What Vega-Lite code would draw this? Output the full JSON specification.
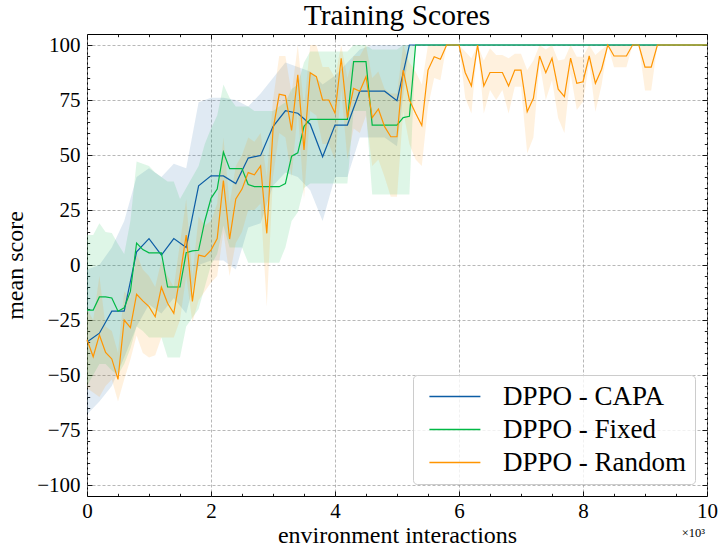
{
  "$schema": "https://vega.github.io/schema/vega-lite/v6.json",
  "width": 620,
  "height": 462,
  "autosize": {"type": "none"},
  "padding": {"left": 87, "top": 34, "right": 16, "bottom": 54},
  "background": "white",
  "title": {"text": "Training Scores"},
  "config": {
    "view": {"stroke": "black", "strokeWidth": 1},
    "font": "Liberation Serif",
    "title": {"font": "Liberation Serif", "fontSize": 29.5, "fontWeight": "normal", "color": "black", "offset": 2},
    "axis": {
      "domain": false,
      "labelFont": "Liberation Serif", "labelFontSize": 21, "labelColor": "black",
      "titleFont": "Liberation Serif", "titleFontSize": 24, "titleFontWeight": "normal", "titleColor": "black",
      "tickColor": "black", "tickWidth": 0.9,
      "gridColor": "#9a9a9a", "gridDash": [3, 2], "gridWidth": 0.7,
      "labelFlush": false
    },
    "legend": {
      "orient": "bottom-right", "offset": 12, "padding": 8,
      "fillColor": "rgba(255,255,255,0.8)", "strokeColor": "#cccccc", "cornerRadius": 4,
      "symbolSize": 104, "symbolStrokeWidth": 1.5,
      "labelFont": "Liberation Serif", "labelFontSize": 27, "labelColor": "black",
      "labelOffset": 55, "rowPadding": 5, "labelLimit": 400
    }
  },
  "data": {"values": [
    {"series": "DPPO - CAPA", "x": 0, "mean": -35, "lo": -68, "hi": -2},
    {"series": "DPPO - CAPA", "x": 0.2, "mean": -31, "lo": -62, "hi": 0},
    {"series": "DPPO - CAPA", "x": 0.4, "mean": -21, "lo": -55, "hi": 8},
    {"series": "DPPO - CAPA", "x": 0.6, "mean": -21, "lo": -42, "hi": 20},
    {"series": "DPPO - CAPA", "x": 0.8, "mean": 6, "lo": -28, "hi": 40},
    {"series": "DPPO - CAPA", "x": 1.0, "mean": 12, "lo": -18, "hi": 44},
    {"series": "DPPO - CAPA", "x": 1.2, "mean": 4.5, "lo": -22, "hi": 40},
    {"series": "DPPO - CAPA", "x": 1.4, "mean": 12, "lo": -15, "hi": 46},
    {"series": "DPPO - CAPA", "x": 1.6, "mean": 8, "lo": -22, "hi": 44},
    {"series": "DPPO - CAPA", "x": 1.8, "mean": 36, "lo": 0, "hi": 74},
    {"series": "DPPO - CAPA", "x": 2.0, "mean": 40.5, "lo": 2, "hi": 76},
    {"series": "DPPO - CAPA", "x": 2.2, "mean": 40.5, "lo": 2, "hi": 76},
    {"series": "DPPO - CAPA", "x": 2.4, "mean": 37, "lo": -2, "hi": 75},
    {"series": "DPPO - CAPA", "x": 2.6, "mean": 48.6, "lo": 17, "hi": 72},
    {"series": "DPPO - CAPA", "x": 2.8, "mean": 49.8, "lo": 19, "hi": 78},
    {"series": "DPPO - CAPA", "x": 3.0, "mean": 62.9, "lo": 36, "hi": 85},
    {"series": "DPPO - CAPA", "x": 3.2, "mean": 70.1, "lo": 42, "hi": 92},
    {"series": "DPPO - CAPA", "x": 3.4, "mean": 69, "lo": 40, "hi": 90},
    {"series": "DPPO - CAPA", "x": 3.6, "mean": 64, "lo": 34, "hi": 88},
    {"series": "DPPO - CAPA", "x": 3.8, "mean": 49.2, "lo": 20, "hi": 82},
    {"series": "DPPO - CAPA", "x": 4.0, "mean": 63.6, "lo": 40, "hi": 86},
    {"series": "DPPO - CAPA", "x": 4.2, "mean": 63.6, "lo": 40, "hi": 92},
    {"series": "DPPO - CAPA", "x": 4.4, "mean": 79, "lo": 58, "hi": 98},
    {"series": "DPPO - CAPA", "x": 4.6, "mean": 79, "lo": 58, "hi": 100},
    {"series": "DPPO - CAPA", "x": 4.8, "mean": 79, "lo": 58, "hi": 100},
    {"series": "DPPO - CAPA", "x": 5.0, "mean": 74.7, "lo": 54, "hi": 100},
    {"series": "DPPO - CAPA", "x": 5.2, "mean": 100, "lo": 100, "hi": 100},
    {"series": "DPPO - CAPA", "x": 10, "mean": 100, "lo": 100, "hi": 100},

    {"series": "DPPO - Fixed", "x": 0, "mean": -20.5, "lo": -55, "hi": 13.6},
    {"series": "DPPO - Fixed", "x": 0.1, "mean": -20.5, "lo": -50, "hi": 13.6},
    {"series": "DPPO - Fixed", "x": 0.2, "mean": -14.5, "lo": -45, "hi": 19},
    {"series": "DPPO - Fixed", "x": 0.3, "mean": -14.5, "lo": -45, "hi": 15},
    {"series": "DPPO - Fixed", "x": 0.4, "mean": -15, "lo": -48, "hi": 14.5},
    {"series": "DPPO - Fixed", "x": 0.5, "mean": -21, "lo": -50, "hi": 9.5},
    {"series": "DPPO - Fixed", "x": 0.6, "mean": -19.5, "lo": -45, "hi": 5},
    {"series": "DPPO - Fixed", "x": 0.7, "mean": -12, "lo": -38, "hi": 20},
    {"series": "DPPO - Fixed", "x": 0.8, "mean": 10, "lo": -28, "hi": 47},
    {"series": "DPPO - Fixed", "x": 0.9, "mean": 7, "lo": -30, "hi": 46},
    {"series": "DPPO - Fixed", "x": 1.0, "mean": 5.5, "lo": -33, "hi": 45},
    {"series": "DPPO - Fixed", "x": 1.1, "mean": 5.5, "lo": -33, "hi": 42},
    {"series": "DPPO - Fixed", "x": 1.2, "mean": 5.5, "lo": -33, "hi": 40},
    {"series": "DPPO - Fixed", "x": 1.3, "mean": -10, "lo": -42, "hi": 38},
    {"series": "DPPO - Fixed", "x": 1.4, "mean": -10, "lo": -42, "hi": 38},
    {"series": "DPPO - Fixed", "x": 1.5, "mean": -10, "lo": -42, "hi": 30},
    {"series": "DPPO - Fixed", "x": 1.6, "mean": 5.6, "lo": -28, "hi": 35},
    {"series": "DPPO - Fixed", "x": 1.7, "mean": 6.4, "lo": -24, "hi": 40},
    {"series": "DPPO - Fixed", "x": 1.8, "mean": 6.7, "lo": -20, "hi": 45},
    {"series": "DPPO - Fixed", "x": 1.9, "mean": 20, "lo": -10, "hi": 55},
    {"series": "DPPO - Fixed", "x": 2.0, "mean": 30.3, "lo": 0, "hi": 62},
    {"series": "DPPO - Fixed", "x": 2.1, "mean": 34.5, "lo": 5, "hi": 68},
    {"series": "DPPO - Fixed", "x": 2.2, "mean": 51.3, "lo": 18, "hi": 82},
    {"series": "DPPO - Fixed", "x": 2.3, "mean": 43.8, "lo": 8, "hi": 76},
    {"series": "DPPO - Fixed", "x": 2.4, "mean": 43.8, "lo": 8, "hi": 72},
    {"series": "DPPO - Fixed", "x": 2.5, "mean": 43.8, "lo": 8, "hi": 72},
    {"series": "DPPO - Fixed", "x": 2.6, "mean": 36.6, "lo": 1, "hi": 72},
    {"series": "DPPO - Fixed", "x": 2.7, "mean": 35.6, "lo": 1, "hi": 70},
    {"series": "DPPO - Fixed", "x": 2.8, "mean": 35.6, "lo": 1, "hi": 70},
    {"series": "DPPO - Fixed", "x": 2.9, "mean": 35.6, "lo": 1, "hi": 70},
    {"series": "DPPO - Fixed", "x": 3.0, "mean": 35.6, "lo": 1, "hi": 70},
    {"series": "DPPO - Fixed", "x": 3.1, "mean": 35.6, "lo": 1, "hi": 72},
    {"series": "DPPO - Fixed", "x": 3.2, "mean": 37, "lo": 8, "hi": 74},
    {"series": "DPPO - Fixed", "x": 3.3, "mean": 49.5, "lo": 20, "hi": 80},
    {"series": "DPPO - Fixed", "x": 3.4, "mean": 51, "lo": 24, "hi": 82},
    {"series": "DPPO - Fixed", "x": 3.5, "mean": 63, "lo": 35, "hi": 92},
    {"series": "DPPO - Fixed", "x": 3.6, "mean": 66.2, "lo": 37, "hi": 97},
    {"series": "DPPO - Fixed", "x": 3.7, "mean": 66.2, "lo": 37, "hi": 97},
    {"series": "DPPO - Fixed", "x": 3.8, "mean": 66.2, "lo": 37, "hi": 97},
    {"series": "DPPO - Fixed", "x": 3.9, "mean": 66.2, "lo": 37, "hi": 97},
    {"series": "DPPO - Fixed", "x": 4.0, "mean": 66.2, "lo": 37, "hi": 97},
    {"series": "DPPO - Fixed", "x": 4.1, "mean": 66.2, "lo": 37, "hi": 97},
    {"series": "DPPO - Fixed", "x": 4.2, "mean": 66.2, "lo": 37, "hi": 97},
    {"series": "DPPO - Fixed", "x": 4.3, "mean": 92.4, "lo": 70, "hi": 100},
    {"series": "DPPO - Fixed", "x": 4.4, "mean": 92.4, "lo": 70, "hi": 100},
    {"series": "DPPO - Fixed", "x": 4.5, "mean": 92.4, "lo": 70, "hi": 100},
    {"series": "DPPO - Fixed", "x": 4.6, "mean": 63.6, "lo": 32, "hi": 98},
    {"series": "DPPO - Fixed", "x": 4.7, "mean": 63.6, "lo": 32, "hi": 98},
    {"series": "DPPO - Fixed", "x": 4.8, "mean": 63.6, "lo": 32, "hi": 98},
    {"series": "DPPO - Fixed", "x": 4.9, "mean": 63.6, "lo": 32, "hi": 98},
    {"series": "DPPO - Fixed", "x": 5.0, "mean": 63.6, "lo": 32, "hi": 98},
    {"series": "DPPO - Fixed", "x": 5.1, "mean": 67, "lo": 32, "hi": 100},
    {"series": "DPPO - Fixed", "x": 5.2, "mean": 67.6, "lo": 32, "hi": 100},
    {"series": "DPPO - Fixed", "x": 5.3, "mean": 100, "lo": 100, "hi": 100},
    {"series": "DPPO - Fixed", "x": 10, "mean": 100, "lo": 100, "hi": 100},

    {"series": "DPPO - Random", "x": 0, "mean": -34, "lo": -56, "hi": -20},
    {"series": "DPPO - Random", "x": 0.1, "mean": -41.7, "lo": -58, "hi": -25},
    {"series": "DPPO - Random", "x": 0.2, "mean": -31.8, "lo": -60, "hi": -5},
    {"series": "DPPO - Random", "x": 0.3, "mean": -39.7, "lo": -55, "hi": -28},
    {"series": "DPPO - Random", "x": 0.4, "mean": -42.7, "lo": -52, "hi": -30},
    {"series": "DPPO - Random", "x": 0.5, "mean": -52, "lo": -62, "hi": -40},
    {"series": "DPPO - Random", "x": 0.6, "mean": -25, "lo": -52, "hi": -12},
    {"series": "DPPO - Random", "x": 0.7, "mean": -28.5, "lo": -43, "hi": -15},
    {"series": "DPPO - Random", "x": 0.8, "mean": -13.3, "lo": -32, "hi": 5},
    {"series": "DPPO - Random", "x": 0.9, "mean": -16.3, "lo": -40, "hi": -2},
    {"series": "DPPO - Random", "x": 1.0, "mean": -18.9, "lo": -42, "hi": -5},
    {"series": "DPPO - Random", "x": 1.1, "mean": -23.5, "lo": -41, "hi": -10},
    {"series": "DPPO - Random", "x": 1.2, "mean": -10.1, "lo": -33, "hi": 2},
    {"series": "DPPO - Random", "x": 1.3, "mean": -17.4, "lo": -33, "hi": -5},
    {"series": "DPPO - Random", "x": 1.4, "mean": -22, "lo": -33, "hi": -10},
    {"series": "DPPO - Random", "x": 1.5, "mean": -5, "lo": -25, "hi": 10},
    {"series": "DPPO - Random", "x": 1.6, "mean": 13.6, "lo": -5, "hi": 30},
    {"series": "DPPO - Random", "x": 1.7, "mean": -16.6, "lo": -26, "hi": -5},
    {"series": "DPPO - Random", "x": 1.8, "mean": 4.5, "lo": -16, "hi": 22},
    {"series": "DPPO - Random", "x": 1.9, "mean": 3.8, "lo": -12, "hi": 18},
    {"series": "DPPO - Random", "x": 2.0, "mean": 6.8, "lo": -8, "hi": 20},
    {"series": "DPPO - Random", "x": 2.1, "mean": 12, "lo": -5, "hi": 28},
    {"series": "DPPO - Random", "x": 2.2, "mean": 38.4, "lo": 15, "hi": 58},
    {"series": "DPPO - Random", "x": 2.3, "mean": 11.8, "lo": -5, "hi": 28},
    {"series": "DPPO - Random", "x": 2.4, "mean": 30, "lo": 10, "hi": 45},
    {"series": "DPPO - Random", "x": 2.5, "mean": 34.5, "lo": 15, "hi": 50},
    {"series": "DPPO - Random", "x": 2.6, "mean": 42, "lo": 25, "hi": 58},
    {"series": "DPPO - Random", "x": 2.7, "mean": 41, "lo": 25, "hi": 56},
    {"series": "DPPO - Random", "x": 2.8, "mean": 45, "lo": 28, "hi": 60},
    {"series": "DPPO - Random", "x": 2.9, "mean": 14.4, "lo": -19, "hi": 40},
    {"series": "DPPO - Random", "x": 3.0, "mean": 61.4, "lo": 40, "hi": 75},
    {"series": "DPPO - Random", "x": 3.1, "mean": 77.6, "lo": 60, "hi": 95},
    {"series": "DPPO - Random", "x": 3.2, "mean": 77, "lo": 58, "hi": 95},
    {"series": "DPPO - Random", "x": 3.3, "mean": 61.2, "lo": 40, "hi": 78},
    {"series": "DPPO - Random", "x": 3.4, "mean": 86.4, "lo": 70, "hi": 100},
    {"series": "DPPO - Random", "x": 3.5, "mean": 52.3, "lo": 30, "hi": 72},
    {"series": "DPPO - Random", "x": 3.6, "mean": 87.4, "lo": 70, "hi": 100},
    {"series": "DPPO - Random", "x": 3.7, "mean": 85.6, "lo": 68, "hi": 100},
    {"series": "DPPO - Random", "x": 3.8, "mean": 75, "lo": 55, "hi": 90},
    {"series": "DPPO - Random", "x": 3.9, "mean": 75, "lo": 55, "hi": 90},
    {"series": "DPPO - Random", "x": 4.0, "mean": 69, "lo": 48, "hi": 85},
    {"series": "DPPO - Random", "x": 4.1, "mean": 94, "lo": 80, "hi": 100},
    {"series": "DPPO - Random", "x": 4.2, "mean": 67, "lo": 48, "hi": 85},
    {"series": "DPPO - Random", "x": 4.3, "mean": 80.3, "lo": 62, "hi": 95},
    {"series": "DPPO - Random", "x": 4.4, "mean": 79, "lo": 60, "hi": 95},
    {"series": "DPPO - Random", "x": 4.5, "mean": 85.6, "lo": 68, "hi": 100},
    {"series": "DPPO - Random", "x": 4.6, "mean": 67, "lo": 45, "hi": 85},
    {"series": "DPPO - Random", "x": 4.7, "mean": 70.9, "lo": 48, "hi": 88},
    {"series": "DPPO - Random", "x": 4.8, "mean": 62.9, "lo": 40, "hi": 80},
    {"series": "DPPO - Random", "x": 4.9, "mean": 58.3, "lo": 31, "hi": 78},
    {"series": "DPPO - Random", "x": 5.0, "mean": 58.3, "lo": 31, "hi": 78},
    {"series": "DPPO - Random", "x": 5.1, "mean": 88.6, "lo": 70, "hi": 100},
    {"series": "DPPO - Random", "x": 5.2, "mean": 75, "lo": 55, "hi": 92},
    {"series": "DPPO - Random", "x": 5.3, "mean": 69, "lo": 48, "hi": 88},
    {"series": "DPPO - Random", "x": 5.4, "mean": 63.4, "lo": 45, "hi": 82},
    {"series": "DPPO - Random", "x": 5.5, "mean": 88.6, "lo": 72, "hi": 100},
    {"series": "DPPO - Random", "x": 5.6, "mean": 94.7, "lo": 85, "hi": 100},
    {"series": "DPPO - Random", "x": 5.7, "mean": 93.5, "lo": 84, "hi": 100},
    {"series": "DPPO - Random", "x": 5.8, "mean": 100, "lo": 100, "hi": 100},
    {"series": "DPPO - Random", "x": 5.9, "mean": 100, "lo": 100, "hi": 100},
    {"series": "DPPO - Random", "x": 6.0, "mean": 100, "lo": 100, "hi": 100},
    {"series": "DPPO - Random", "x": 6.1, "mean": 87.5, "lo": 76, "hi": 97},
    {"series": "DPPO - Random", "x": 6.2, "mean": 81.4, "lo": 68.9, "hi": 94},
    {"series": "DPPO - Random", "x": 6.3, "mean": 100, "lo": 100, "hi": 100},
    {"series": "DPPO - Random", "x": 6.4, "mean": 81.4, "lo": 68.9, "hi": 93},
    {"series": "DPPO - Random", "x": 6.5, "mean": 87.5, "lo": 79.5, "hi": 98.5},
    {"series": "DPPO - Random", "x": 6.6, "mean": 87.5, "lo": 75, "hi": 95.5},
    {"series": "DPPO - Random", "x": 6.7, "mean": 87.5, "lo": 79.5, "hi": 95.5},
    {"series": "DPPO - Random", "x": 6.8, "mean": 81.4, "lo": 68.9, "hi": 94},
    {"series": "DPPO - Random", "x": 6.9, "mean": 88.6, "lo": 81, "hi": 96},
    {"series": "DPPO - Random", "x": 7.0, "mean": 88.6, "lo": 81, "hi": 96},
    {"series": "DPPO - Random", "x": 7.1, "mean": 69.7, "lo": 50.8, "hi": 88.6},
    {"series": "DPPO - Random", "x": 7.2, "mean": 75.8, "lo": 58, "hi": 93},
    {"series": "DPPO - Random", "x": 7.3, "mean": 95, "lo": 91.7, "hi": 100},
    {"series": "DPPO - Random", "x": 7.4, "mean": 87.4, "lo": 75, "hi": 98},
    {"series": "DPPO - Random", "x": 7.5, "mean": 94, "lo": 84, "hi": 100},
    {"series": "DPPO - Random", "x": 7.6, "mean": 79.9, "lo": 66.7, "hi": 92.9},
    {"series": "DPPO - Random", "x": 7.7, "mean": 76.5, "lo": 60, "hi": 93.5},
    {"series": "DPPO - Random", "x": 7.8, "mean": 94, "lo": 87, "hi": 100},
    {"series": "DPPO - Random", "x": 7.9, "mean": 82.6, "lo": 70.5, "hi": 94.7},
    {"series": "DPPO - Random", "x": 8.0, "mean": 83.3, "lo": 74.2, "hi": 94.7},
    {"series": "DPPO - Random", "x": 8.1, "mean": 95, "lo": 91.7, "hi": 100},
    {"series": "DPPO - Random", "x": 8.2, "mean": 82.6, "lo": 69.7, "hi": 95.5},
    {"series": "DPPO - Random", "x": 8.3, "mean": 89, "lo": 81.8, "hi": 98},
    {"series": "DPPO - Random", "x": 8.4, "mean": 100, "lo": 100, "hi": 100},
    {"series": "DPPO - Random", "x": 8.5, "mean": 95, "lo": 89.9, "hi": 100},
    {"series": "DPPO - Random", "x": 8.6, "mean": 95, "lo": 89.9, "hi": 100},
    {"series": "DPPO - Random", "x": 8.7, "mean": 95, "lo": 89.9, "hi": 100},
    {"series": "DPPO - Random", "x": 8.8, "mean": 100, "lo": 100, "hi": 100},
    {"series": "DPPO - Random", "x": 8.9, "mean": 100, "lo": 100, "hi": 100},
    {"series": "DPPO - Random", "x": 9.0, "mean": 89.9, "lo": 79.3, "hi": 100},
    {"series": "DPPO - Random", "x": 9.1, "mean": 89.9, "lo": 79.3, "hi": 100},
    {"series": "DPPO - Random", "x": 9.2, "mean": 100, "lo": 100, "hi": 100},
    {"series": "DPPO - Random", "x": 10, "mean": 100, "lo": 100, "hi": 100}
  ]},
  "resolve": {"axis": {"x": "independent", "y": "independent"}},
  "layer": [
    {
      "mark": {"type": "area", "fillOpacity": 0.13, "strokeWidth": 0},
      "encoding": {
        "x": {"field": "x", "type": "quantitative",
              "scale": {"domain": [0, 10], "nice": false, "zero": false},
              "axis": {"orient": "bottom", "values": [0, 2, 4, 6, 8, 10], "grid": true, "tickSize": -5, "labelPadding": 9, "title": "environment interactions", "titlePadding": 2}},
        "y": {"field": "lo", "type": "quantitative",
              "scale": {"domain": [-105, 105], "nice": false, "zero": false},
              "axis": {"orient": "left", "values": [-100, -75, -50, -25, 0, 25, 50, 75, 100], "grid": true, "tickSize": -5, "labelPadding": 12, "title": "mean score", "titlePadding": 9}},
        "y2": {"field": "hi"},
        "color": {"field": "series", "type": "nominal",
                  "scale": {"domain": ["DPPO - CAPA", "DPPO - Fixed", "DPPO - Random"], "range": ["#0C5DA5", "#00B945", "#FF9500"]},
                  "legend": {"title": null, "symbolType": "M-1,0H9", "symbolOpacity": 1, "symbolStrokeWidth": 1.5}}
      }
    },
    {
      "mark": {"type": "line", "strokeWidth": 1.2},
      "encoding": {
        "x": {"field": "x", "type": "quantitative",
              "scale": {"domain": [0, 10], "nice": false, "zero": false},
              "axis": {"orient": "bottom", "values": [0.5, 1, 1.5, 2.5, 3, 3.5, 4.5, 5, 5.5, 6.5, 7, 7.5, 8.5, 9, 9.5], "grid": false, "labels": false, "tickSize": -2.7, "title": null}},
        "y": {"field": "mean", "type": "quantitative",
              "scale": {"domain": [-105, 105], "nice": false, "zero": false},
              "axis": {"orient": "left", "values": [-95, -90, -85, -80, -70, -65, -60, -55, -45, -40, -35, -30, -20, -15, -10, -5, 5, 10, 15, 20, 30, 35, 40, 45, 55, 60, 65, 70, 80, 85, 90, 95], "grid": false, "labels": false, "tickSize": -2.7, "title": null}},
        "color": {"field": "series", "type": "nominal",
                  "scale": {"domain": ["DPPO - CAPA", "DPPO - Fixed", "DPPO - Random"], "range": ["#0C5DA5", "#00B945", "#FF9500"]},
                  "legend": {"title": null, "symbolType": "M-1,0H9", "symbolOpacity": 1, "symbolStrokeWidth": 1.5}}
      }
    },
    {
      "data": {"values": [{"note": "x10^3"}]},
      "mark": {"type": "text", "text": "×10³", "align": "right", "baseline": "top", "dy": 31, "dx": -2, "fontSize": 12.5, "font": "Liberation Serif", "color": "black"},
      "encoding": {
        "x": {"datum": 10, "type": "quantitative",
              "scale": {"domain": [0, 10], "nice": false, "zero": false},
              "axis": {"orient": "top", "values": [0, 2, 4, 6, 8, 10], "grid": false, "labels": false, "tickSize": -5, "title": null}},
        "y": {"datum": -105, "type": "quantitative",
              "scale": {"domain": [-105, 105], "nice": false, "zero": false},
              "axis": {"orient": "right", "values": [-100, -75, -50, -25, 0, 25, 50, 75, 100], "grid": false, "labels": false, "tickSize": -5, "title": null}}
      }
    },
    {
      "data": {"values": [{"note": "minor"}]},
      "mark": {"type": "text", "text": ""},
      "encoding": {
        "x": {"datum": 0, "type": "quantitative",
              "scale": {"domain": [0, 10], "nice": false, "zero": false},
              "axis": {"orient": "top", "values": [0.5, 1, 1.5, 2.5, 3, 3.5, 4.5, 5, 5.5, 6.5, 7, 7.5, 8.5, 9, 9.5], "grid": false, "labels": false, "tickSize": -2.7, "title": null}},
        "y": {"datum": 0, "type": "quantitative",
              "scale": {"domain": [-105, 105], "nice": false, "zero": false},
              "axis": {"orient": "right", "values": [-95, -90, -85, -80, -70, -65, -60, -55, -45, -40, -35, -30, -20, -15, -10, -5, 5, 10, 15, 20, 30, 35, 40, 45, 55, 60, 65, 70, 80, 85, 90, 95], "grid": false, "labels": false, "tickSize": -2.7, "title": null}}
      }
    }
  ]
}
